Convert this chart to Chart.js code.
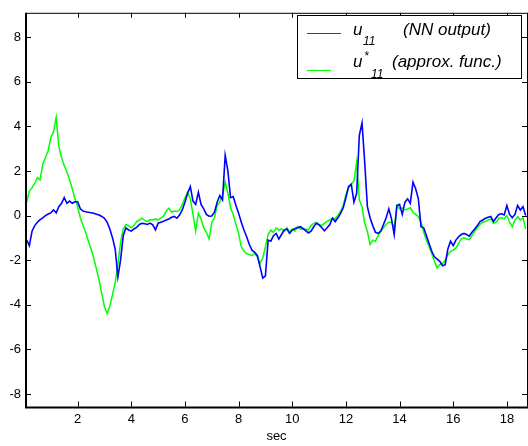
<!DOCTYPE html>
<html>
<head>
<meta charset="utf-8">
<script src="https://cdn.jsdelivr.net/npm/chart.js@4.4.0/dist/chart.umd.min.js"></script>
<style>
  body { margin: 0; background: #fff; }
  canvas { display: block; }
</style>
</head>
<body>
<canvas id="mychart" width="528" height="446"></canvas>
<script>
'use strict';

// time grid, 0.1 s to 18.7 s
const time = Array.from({length: 187}, (_, i) => +((i + 1) * 0.1).toFixed(1));

// u11 (NN output)
const u11 = [
  -1.1, -1.35, -0.7, -0.45, -0.3, -0.18, -0.1, 0.0, 0.07, 0.12,
  0.25, 0.12, 0.4, 0.55, 0.8, 0.55, 0.65, 0.55, 0.62, 0.62,
  0.3, 0.2, 0.17, 0.15, 0.13, 0.1, 0.06, 0.02, -0.04, -0.12,
  -0.3, -0.6, -1.0, -1.5, -2.75, -2.0, -0.9, -0.55, -0.65, -0.7,
  -0.6, -0.53, -0.4, -0.35, -0.37, -0.4, -0.34, -0.42, -0.64, -0.34,
  -0.3, -0.26, -0.2, -0.15, -0.08, -0.04, -0.12, 0.02, 0.25, 0.6,
  1.0, 1.3, 0.65, 0.5, 1.05, 0.5, 0.3, 0.05, -0.03, -0.02,
  0.15, 0.6, 0.9, 0.7, 2.7, 2.0, 0.8, 0.85, 0.45, 0.1,
  -0.3, -0.65, -0.95, -1.3, -1.55, -1.65, -1.8, -2.3, -2.8, -2.7,
  -1.1, -1.15, -0.9, -0.8, -1.05, -0.85, -0.65, -0.6, -0.8, -0.65,
  -0.58, -0.55, -0.5, -0.58, -0.68, -0.78, -0.7, -0.5, -0.35, -0.42,
  -0.55, -0.68, -0.55, -0.4, -0.12, -0.27, -0.1, 0.1, 0.35, 0.8,
  1.3, 1.4, 0.6, 1.0, 3.6, 4.15, 2.4, 0.4, -0.1, -0.45,
  -0.75, -0.8, -0.7, -0.4, -0.1, 0.3, -0.15, -0.85, 0.45, 0.5,
  0.05, 0.6, 0.75, 0.55, 1.5, 1.2, 0.75, -0.5, -0.55, -0.9,
  -1.25, -1.6, -1.85, -1.95, -2.05, -2.25, -2.2, -1.5, -1.15, -1.35,
  -1.1, -0.95, -0.85, -0.8, -0.85, -0.92, -0.75, -0.6, -0.45, -0.27,
  -0.2, -0.12, -0.08, -0.04, -0.27, -0.1, 0.05, 0.08, 0.03, 0.45,
  0.05, -0.1, 0.05, 0.45, 0.25, 0.4, 0.0
];

// u*11 (approx. func.)
const u11Approx = [
  0.6, 1.1, 1.25, 1.45, 1.7, 1.6, 2.3, 2.6, 2.9, 3.5,
  3.75, 4.4, 3.1, 2.6, 2.25, 1.95, 1.6, 1.2, 0.75, 0.4,
  -0.1, -0.45, -0.75, -1.15, -1.5, -1.9, -2.4, -2.9, -3.5, -4.1,
  -4.4, -4.05, -3.55, -3.0, -2.2, -1.2, -0.6, -0.4, -0.45, -0.55,
  -0.45, -0.27, -0.2, -0.12, -0.22, -0.27, -0.18, -0.2, -0.15, -0.2,
  -0.1, -0.04, 0.2, 0.33, 0.15, 0.2, 0.18, 0.25, 0.5, 0.8,
  1.05, 0.75, 0.05, -0.7, 0.1, -0.15, -0.55, -0.75, -1.05, -0.3,
  -0.1, 0.45, 0.6, 0.9, 1.5, 1.0, 0.35, 0.05, -0.4, -0.8,
  -1.4, -1.6, -1.7, -1.75, -1.8, -1.7, -1.85, -2.15, -1.9, -1.4,
  -0.85, -0.65, -0.75, -0.55, -0.65, -0.6, -0.7, -0.55, -0.72, -0.6,
  -0.7, -0.5, -0.6, -0.62, -0.6, -0.65, -0.45, -0.35, -0.3, -0.4,
  -0.45, -0.35, -0.25, -0.2, -0.1, -0.15, 0.0, 0.2, 0.45, 0.95,
  1.25, 1.4, 1.55, 2.4, 0.7, 0.4, -0.35, -0.7, -1.3, -1.1,
  -1.15, -0.9, -0.7, -0.55, -0.4, -0.3, -0.3, -0.55, 0.45, 0.3,
  0.35, 0.25, 0.3, 0.35, 0.15, 0.05, -0.05, -0.3, -0.75, -1.1,
  -1.4, -1.7, -2.05, -2.35, -2.2, -2.15, -2.0, -1.75, -1.6, -1.55,
  -1.45, -1.25, -1.05, -1.0, -1.05, -1.08, -0.9, -0.7, -0.55, -0.4,
  -0.3, -0.27, -0.2, -0.15, -0.35, -0.3, -0.12, -0.1, -0.15, 0.0,
  -0.3, -0.5, -0.2, -0.05, -0.2, -0.1, -0.6
];

const xTicks = [2, 4, 6, 8, 10, 12, 14, 16, 18];
const yTicks = [-8, -6, -4, -2, 0, 2, 4, 6, 8];

const FONT = 'Liberation Sans, Arial, Helvetica, sans-serif';

function points(vals) {
  return vals.map((v, i) => ({x: time[i], y: v}));
}

// box round the plot plus matlab style inward ticks on all four sides
const frame = {
  id: 'frame',
  afterDatasetsDraw(chart) {
    const {ctx, chartArea: a, scales: {x, y}} = chart;
    ctx.save();
    ctx.strokeStyle = '#000';
    ctx.lineWidth = 1;
    ctx.beginPath();
    ctx.moveTo(a.left, a.top + 0.5); ctx.lineTo(a.right + 2, a.top + 0.5);
    ctx.moveTo(a.right + 0.5, a.top); ctx.lineTo(a.right + 0.5, a.bottom);
    xTicks.forEach(v => {
      const px = Math.round(x.getPixelForValue(v)) + 0.5;
      ctx.moveTo(px, a.bottom); ctx.lineTo(px, a.bottom - 5);
      ctx.moveTo(px, a.top); ctx.lineTo(px, a.top + 5);
    });
    yTicks.forEach(v => {
      const py = Math.round(y.getPixelForValue(v)) + 0.5;
      ctx.moveTo(a.left, py); ctx.lineTo(a.left + 5, py);
      ctx.moveTo(a.right, py); ctx.lineTo(a.right - 5, py);
    });
    ctx.stroke();
    ctx.lineWidth = 2;
    ctx.beginPath();
    ctx.moveTo(a.left, a.top); ctx.lineTo(a.left, a.bottom + 1);
    ctx.lineTo(a.right + 2, a.bottom + 1);
    ctx.stroke();
    ctx.restore();
  }
};

// legend with the subscripts, drawn by hand
const legendBox = {
  id: 'legendBox',
  afterDraw(chart) {
    const ctx = chart.ctx;
    ctx.save();
    ctx.fillStyle = '#fff';
    ctx.fillRect(297, 15, 225, 64);
    ctx.strokeStyle = '#000';
    ctx.lineWidth = 1;
    ctx.strokeRect(297.5, 15.5, 224, 63);

    ctx.lineWidth = 1;
    ctx.strokeStyle = '#2a2aff';
    ctx.beginPath(); ctx.moveTo(307, 33.5); ctx.lineTo(341, 33.5); ctx.stroke();
    ctx.strokeStyle = '#00ff00';
    ctx.beginPath(); ctx.moveTo(307, 70.5); ctx.lineTo(331, 70.5); ctx.stroke();

    ctx.fillStyle = '#000';
    ctx.textBaseline = 'alphabetic';
    ctx.font = 'italic 17px ' + FONT;
    ctx.fillText('u', 353, 35);
    ctx.fillText('(NN output)', 403, 35);
    ctx.fillText('u', 353, 67);
    ctx.fillText('(approx. func.)', 392, 67);
    ctx.font = 'italic 12px ' + FONT;
    ctx.fillText('11', 363, 45);
    ctx.fillText('*', 364, 60);
    ctx.fillText('11', 371, 78);
    ctx.restore();
  }
};

const ctx = document.getElementById('mychart').getContext('2d');
const chart = new Chart(ctx, {
  type: 'line',
  data: {
    datasets: [{
      label: 'u11 (NN output)',
      data: points(u11),
      borderColor: '#0000ff',
      borderWidth: 1.6,
      pointRadius: 0,
      tension: 0
    }, {
      label: 'u*11 (approx. func.)',
      data: points(u11Approx),
      borderColor: '#00ff00',
      borderWidth: 1.5,
      pointRadius: 0,
      tension: 0
    }]
  },
  options: {
    responsive: false,
    animation: false,
    devicePixelRatio: 1,
    layout: {padding: {top: 9.5, right: 1, left: 0, bottom: 0}},
    plugins: {legend: {display: false}, tooltip: {enabled: false}},
    scales: {
      x: {
        type: 'linear',
        min: 0.075,
        max: 18.75,
        afterBuildTicks: s => { s.ticks = xTicks.map(v => ({value: v})); },
        afterFit: s => { s.height = 39.5; },
        grid: {display: false, drawTicks: false},
        border: {display: false},
        ticks: {color: '#000', padding: 5, font: {family: FONT, size: 13}, maxRotation: 0},
        title: {display: true, text: 'sec', color: '#000', font: {family: FONT, size: 13}, padding: {top: 0, bottom: 2}}
      },
      y: {
        min: -8.56,
        max: 9.09,
        afterBuildTicks: s => { s.ticks = yTicks.map(v => ({value: v})); },
        afterFit: s => { s.width = 26; },
        grid: {display: false, drawTicks: false},
        border: {display: false},
        ticks: {color: '#000', padding: 5, font: {family: FONT, size: 13}}
      }
    }
  },
  plugins: [frame, legendBox]
});
</script>
</body>
</html>
